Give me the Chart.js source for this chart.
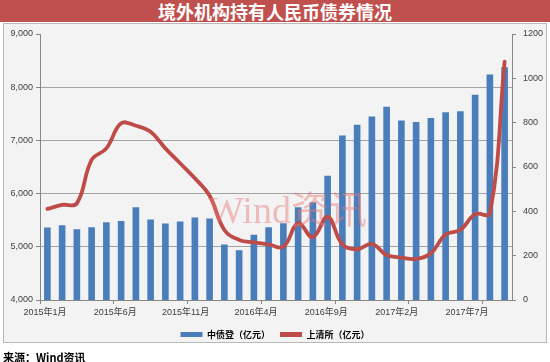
<!DOCTYPE html>
<html><head><meta charset="utf-8">
<script src="https://cdn.jsdelivr.net/npm/chart.js@4/dist/chart.umd.min.js"></script>
<style>
html,body{margin:0;padding:0;background:#fff;}
#wrap{position:relative;width:550px;height:362px;overflow:hidden;font-family:"Noto Sans CJK SC",sans-serif;}
#title{position:absolute;left:0;top:0;width:550px;height:22px;background:#c0504d;color:#fff;font-weight:700;font-size:18px;line-height:22px;text-align:center;}
#frame{position:absolute;left:3px;top:23px;width:542px;height:318px;border:1px solid #b8b8b8;background:#f3f3f3;}
#src{position:absolute;left:3px;top:349px;font-size:11px;font-weight:700;line-height:16px;color:#000;}
#wm{position:absolute;left:208px;top:190px;font-family:"Liberation Serif","Noto Sans CJK SC",serif;font-size:38px;line-height:40px;color:rgba(232,120,120,0.45);white-space:nowrap;pointer-events:none;}
#c{position:absolute;left:0;top:0;}
</style></head>
<body>
<div id="wrap">
  <div id="title">境外机构持有人民币债券情况</div>
  <div id="frame"></div>
  <canvas id="c" width="564" height="362"></canvas>
  <div id="wm">Wind资讯</div>
  <div id="src">来源：Wind资讯</div>
</div>
<script>
const categories = [
  '2015年1月','2015年2月','2015年3月','2015年4月','2015年5月','2015年6月',
  '2015年7月','2015年8月','2015年9月','2015年10月','2015年11月','2015年12月',
  '2016年1月','2016年2月','2016年3月','2016年4月','2016年5月','2016年6月',
  '2016年7月','2016年8月','2016年9月','2016年10月','2016年11月','2016年12月',
  '2017年1月','2017年2月','2017年3月','2017年4月','2017年5月','2017年6月',
  '2017年7月','2017年8月'
];
const tickLabels = ['2015年1月','2015年6月','2015年11月','2016年4月','2016年9月','2017年2月','2017年7月'];
const zhongzhaiValues = [
  5362,5406,5331,5369,5462,5487,5744,5512,5437,5475,5550,5531,
  5044,4937,5225,5369,5444,5744,5837,6337,7090,7294,7450,7631,
  7375,7344,7419,7531,7550,7856,8240,8375
];
const shangqingValues = [
  411,429,436,632,684,797,786,759,684,617,549,470,
  316,271,260,251,240,346,283,376,250,229,253,203,
  191,185,211,296,316,387,391,1075
];
const leftTicks = [4000, 9000, 1000];
const rightTicks = [0, 1200, 200];

const tickFont = {family:'"Liberation Sans","Noto Sans CJK SC",sans-serif', size:9};
const tickColor = '#404040';
const axisColor = '#868686';

new Chart(document.getElementById('c').getContext('2d'), {
  type: 'bar',
  data: {
    labels: categories,
    datasets: [
      {type:'bar', label:'中债登（亿元）', data:zhongzhaiValues, backgroundColor:'#4a7ebb',
       xAxisID:'x', yAxisID:'y', barPercentage:0.45, categoryPercentage:1, order:2},
      {type:'line', label:'上清所（亿元）', data:shangqingValues, borderColor:'#be4b48', backgroundColor:'#be4b48',
       borderWidth:3.8, pointRadius:0, tension:0.4, xAxisID:'x', yAxisID:'y1', order:1,
       borderCapStyle:'round', borderJoinStyle:'round'}
    ]
  },
  options: {
    responsive:false, animation:false, devicePixelRatio:1,
    layout:{padding:{left:0, right:14, top:34, bottom:13}},
    plugins:{
      tooltip:{enabled:false},
      legend:{
        position:'bottom',
        labels:{
          boxWidth:22, boxHeight:5, padding:10, color:'#000',
          font:{family:'"Noto Sans CJK SC",sans-serif', size:9, weight:'bold'},
          sort:(a,b)=>a.datasetIndex-b.datasetIndex,
          generateLabels:(chart)=>Chart.defaults.plugins.legend.labels.generateLabels(chart).map(l=>Object.assign(l,{lineWidth:0}))
        }
      }
    },
    scales:{
      x:{
        type:'category', position:'bottom', offset:true, weight:0,
        grid:{offset:true, drawOnChartArea:false, drawTicks:true, tickLength:4,
              color:(c)=>(c.index!==undefined && c.index%5===0) ? axisColor : 'rgba(0,0,0,0)'},
        border:{display:true, color:axisColor},
        ticks:{display:false},
        afterFit:(s)=>{s.height=4;}
      },
      xl:{
        type:'linear', position:'bottom', weight:1, min:-0.0711, max:6.640, offset:false,
        grid:{display:false, drawTicks:false, offset:false},
        border:{display:false},
        ticks:{stepSize:1, includeBounds:false, autoSkip:false, maxRotation:0, padding:3,
               color:tickColor, font:tickFont,
               callback:(v)=>(Number.isInteger(v) && tickLabels[v]!==undefined) ? tickLabels[v] : ''},
        afterFit:(s)=>{s.height=16;}
      },
      y:{
        position:'left', min:leftTicks[0], max:leftTicks[1],
        ticks:{stepSize:leftTicks[2], padding:3, color:tickColor, font:tickFont,
               callback:(v)=>v.toLocaleString('en-US')},
        grid:{color:(c)=>(c.tick && c.tick.value===leftTicks[1]) ? 'rgba(0,0,0,0)' : '#a3a3a3',
              tickColor:axisColor, tickLength:4},
        border:{color:axisColor},
        afterFit:(s)=>{s.width=40;}
      },
      y1:{
        position:'right', min:rightTicks[0], max:rightTicks[1],
        ticks:{stepSize:rightTicks[2], padding:7, color:tickColor, font:tickFont,
               callback:(v)=>String(v)},
        grid:{drawOnChartArea:false, tickLength:4, color:axisColor},
        border:{color:axisColor},
        afterFit:(s)=>{s.width=38;}
      }
    }
  }
});
</script>
</body></html>
